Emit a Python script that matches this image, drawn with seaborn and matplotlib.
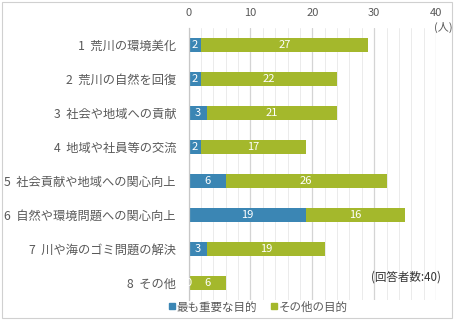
import matplotlib
matplotlib.use("Agg")
import matplotlib.pyplot as plt
import seaborn as sns
import pandas as pd
import numpy as np
from matplotlib.lines import Line2D
from matplotlib.patches import Rectangle

categories = ["1  荒川の環境美化", "2  荒川の自然を回復", "3  社会や地域への貢献",
              "4  地域や社員等の交流", "5  社会貢献や地域への関心向上",
              "6  自然や環境問題への関心向上", "7  川や海のゴミ問題の解決", "8  その他"]
most_important = [2, 2, 3, 2, 6, 19, 3, 0]
other_purpose = [27, 22, 21, 17, 26, 16, 19, 6]
series_names = ["最も重要な目的", "その他の目的"]
x_ticks = [0, 10, 20, 30, 40]

BLUE = "#3B86B4"
GREEN = "#A4B82C"
TXT = "#595959"

sns.set_theme(style="white")
plt.rcParams['font.family'] = ['Noto Sans CJK JP', 'DejaVu Sans']

df = pd.DataFrame({"cat": categories, "most": most_important, "other": other_purpose})
df["total"] = df["most"] + df["other"]

fig = plt.figure(figsize=(4.7, 3.22), dpi=100)
ax = fig.add_axes([188.5/470, 1-300/322, (436-188.5)/470, (300-28)/322])

sns.barplot(data=df, x="total", y="cat", color=GREEN, width=0.44, ax=ax, saturation=1,
            orient="h", linewidth=0, edgecolor="none")
sns.barplot(data=df, x="most", y="cat", color=BLUE, width=0.44, ax=ax, saturation=1,
            orient="h", linewidth=0, edgecolor="none")

for i, (m, o) in enumerate(zip(most_important, other_purpose)):
    ax.text(m/2, i, str(m), color="white", ha="center", va="center", fontsize=8)
    ax.text(m + o/2, i, str(o), color="white", ha="center", va="center", fontsize=8)

ax.set_xlim(0, 40)
ax.set_ylim(7.5, -0.5)
ax.set_xticks(x_ticks)
ax.set_xticks(np.arange(0, 41, 2), minor=True)
ax.xaxis.tick_top()
ax.grid(axis="x", which="minor", color="#EBEBEB", lw=0.7)
ax.grid(axis="x", which="major", color="#D4D4D4", lw=0.9)
ax.set_axisbelow(True)
ax.tick_params(axis="x", which="both", length=0, pad=7, labelsize=8, labelcolor=TXT)
ax.tick_params(axis="y", length=0, pad=9, labelsize=8.8, labelcolor=TXT)
ax.set_xlabel("")
ax.set_ylabel("")
for s in ["top", "right", "bottom"]:
    ax.spines[s].set_visible(False)
ax.spines["left"].set_color("#C8C8C8")
ax.spines["left"].set_linewidth(0.9)

fig.text(443/470, 1-27/322, "(人)", ha="center", va="center", fontsize=8, color=TXT)
fig.text(441/470, 1-277/322, "(回答者数:40)", ha="right", va="center", fontsize=8.3, color="#333333")

handles = [Line2D([], [], marker="s", ls="", color=BLUE, markersize=5),
           Line2D([], [], marker="s", ls="", color=GREEN, markersize=5)]
fig.legend(handles, series_names, loc="center", bbox_to_anchor=(258/470, 1-307/322),
           ncol=2, frameon=False, fontsize=8.3, handlelength=0.6, handletextpad=0.1,
           columnspacing=1.2, labelcolor=TXT)

fig.patches.append(Rectangle((2/470, 1-318/322), 450/470, 316/322, transform=fig.transFigure,
                             fill=False, edgecolor="#D0D0D0", lw=0.8))

fig.savefig("out.png", dpi=100)
